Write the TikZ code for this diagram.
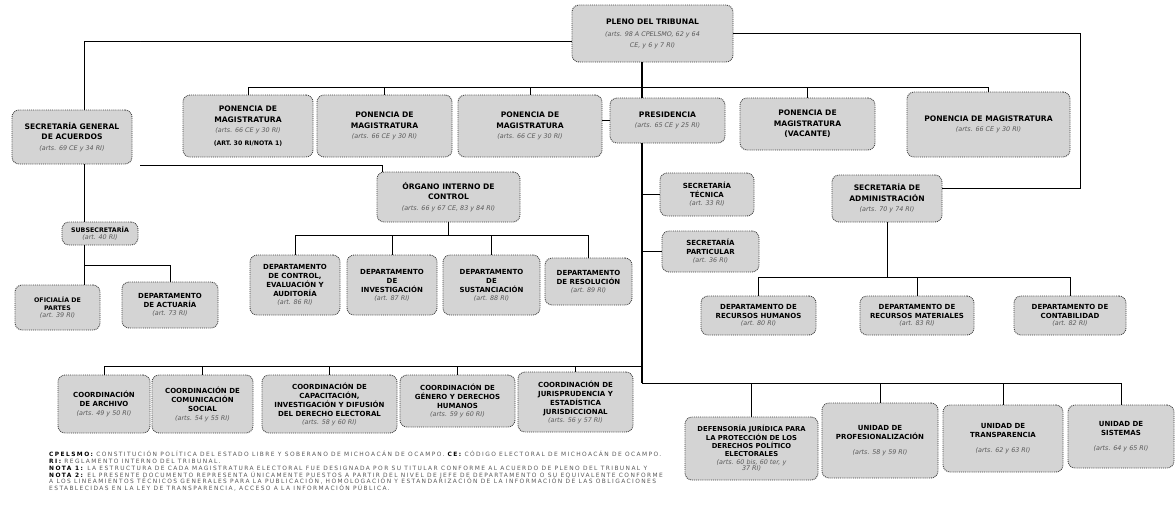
\documentclass[tikz,border=0pt]{standalone}
\usepackage{fontspec}
\setmainfont{DejaVu Sans}
\newfontfamily\notefont{DejaVu Sans}[LetterSpace=24]
\usetikzlibrary{calc}

\newcommand{\artref}[1]{{\mdseries\itshape\color{black!65}\fontsize{6.4}{8}\selectfont #1}}

\tikzset{
    unit/.style={draw=black!75, densely dotted, line width=0.9pt, fill=black!17, rounded corners=7pt,
        align=center, inner sep=1pt, font=\bfseries\fontsize{7.6}{10.5}\selectfont},
    small/.style={font=\bfseries\fontsize{7}{9}\selectfont},
    tiny/.style={font=\bfseries\fontsize{6.3}{8.2}\selectfont},
    sz/.style 2 args={minimum width=#1pt, minimum height=#2pt},
    link/.style={line width=0.7pt},
    trunk/.style={line width=1.3pt},
}

\begin{document}
\begin{tikzpicture}[x=1pt, y=-1pt]
    \fill[white] (0,0) rectangle (1176,507);
    \useasboundingbox (0,0) rectangle (1176,507);

    % pleno
    \node[unit, sz={161}{57}] (pleno) at (652.5,33.5) {PLENO DEL TRIBUNAL\\[2pt]\artref{(arts. 98 A CPELSMO, 62 y 64}\\\artref{CE, y 6 y 7 RI)}};

    % ponencias y presidencia
    \node[unit, sz={130}{62}] (pon1) at (248,126) {PONENCIA DE\\MAGISTRATURA\\\artref{(arts. 66 CE y 30 RI)}\\[2pt]{\fontsize{6.2}{7}\selectfont (ART. 30 RI/NOTA 1)}};
    \node[unit, sz={135}{62}] (pon2) at (384.5,126) {PONENCIA DE\\MAGISTRATURA\\\artref{(arts. 66 CE y 30 RI)}};
    \node[unit, sz={144}{62}] (pon3) at (530,126) {PONENCIA DE\\MAGISTRATURA\\\artref{(arts. 66 CE y 30 RI)}};
    \node[unit, sz={115}{45}] (pres) at (667.5,120.5) {PRESIDENCIA\\\artref{(arts. 65 CE y 25 RI)}};
    \node[unit, sz={135}{52}] (pon5) at (807.5,124) {PONENCIA DE\\MAGISTRATURA\\(VACANTE)};
    \node[unit, sz={163}{65}] (pon6) at (988.5,124.5) {PONENCIA DE MAGISTRATURA\\\artref{(arts. 66 CE y 30 RI)}};

    % secretaria general de acuerdos
    \node[unit, sz={120}{54}] (sga) at (72,137) {SECRETARÍA GENERAL\\DE ACUERDOS\\\artref{(arts. 69 CE y 34 RI)}};
    \node[unit, tiny, sz={76}{23}] (subsec) at (100,233.5) {SUBSECRETARÍA\\[-1pt]\artref{(art. 40 RI)}};
    \node[unit, tiny, sz={85}{45}] (ofic) at (57.5,307.5) {OFICIALÍA DE\\PARTES\\[-1pt]\artref{(art. 39 RI)}};
    \node[unit, small, sz={96}{46}] (actu) at (170,305) {DEPARTAMENTO\\DE ACTUARÍA\\[-1pt]\artref{(art. 73 RI)}};

    % organo interno de control
    \node[unit, sz={143}{50}] (organo) at (448.5,197) {ÓRGANO INTERNO DE\\CONTROL\\\artref{(arts. 66 y 67 CE, 83 y 84 RI)}};
    \node[unit, small, sz={90}{60}] (dctl) at (295,285) {DEPARTAMENTO\\DE CONTROL,\\EVALUACIÓN Y\\AUDITORÍA\\[-1pt]\artref{(art. 86 RI)}};
    \node[unit, small, sz={90}{60}] (dinv) at (392,285) {DEPARTAMENTO\\DE\\INVESTIGACIÓN\\[-1pt]\artref{(art. 87 RI)}};
    \node[unit, small, sz={97}{60}] (dsus) at (491.5,285) {DEPARTAMENTO\\DE\\SUSTANCIACIÓN\\[-1pt]\artref{(art. 88 RI)}};
    \node[unit, small, sz={87}{47}] (dres) at (588.5,281.5) {DEPARTAMENTO\\DE RESOLUCIÓN\\[-1pt]\artref{(art. 89 RI)}};

    % secretarias de presidencia
    \node[unit, small, sz={94}{43}] (stec) at (707,194.5) {SECRETARÍA\\TÉCNICA\\[-1pt]\artref{(art. 33 RI)}};
    \node[unit, small, sz={97}{41}] (spart) at (710.5,251.5) {SECRETARÍA\\PARTICULAR\\[-1pt]\artref{(art. 36 RI)}};

    % administracion
    \node[unit, sz={110}{47}] (admin) at (887,198.5) {SECRETARÍA DE\\ADMINISTRACIÓN\\\artref{(arts. 70 y 74 RI)}};
    \node[unit, small, sz={115}{39}] (drh) at (758.5,315.5) {DEPARTAMENTO DE\\RECURSOS HUMANOS\\[-2pt]\artref{(art. 80 RI)}};
    \node[unit, small, sz={114}{39}] (drm) at (917,315.5) {DEPARTAMENTO DE\\RECURSOS MATERIALES\\[-2pt]\artref{(art. 83 RI)}};
    \node[unit, small, sz={112}{39}] (dcon) at (1070,315.5) {DEPARTAMENTO DE\\CONTABILIDAD\\[-2pt]\artref{(art. 82 RI)}};

    % coordinaciones
    \node[unit, small, sz={92}{58}] (carc) at (104,404) {COORDINACIÓN\\DE ARCHIVO\\\artref{(arts. 49 y 50 RI)}};
    \node[unit, small, sz={101}{58}] (ccom) at (202.5,404) {COORDINACIÓN DE\\COMUNICACIÓN\\SOCIAL\\\artref{(arts. 54 y 55 RI)}};
    \node[unit, small, sz={135}{58}] (ccap) at (329.5,404) {COORDINACIÓN DE\\CAPACITACIÓN,\\INVESTIGACIÓN Y DIFUSIÓN\\DEL DERECHO ELECTORAL\\[-1pt]\artref{(arts. 58 y 60 RI)}};
    \node[unit, small, sz={115}{52}] (cgen) at (457.5,401) {COORDINACIÓN DE\\GÉNERO Y DERECHOS\\HUMANOS\\[-1pt]\artref{(arts. 59 y 60 RI)}};
    \node[unit, small, sz={115}{60}] (cjur) at (575.5,402) {COORDINACIÓN DE\\JURISPRUDENCIA Y\\ESTADÍSTICA\\JURISDICCIONAL\\[-1pt]\artref{(arts. 56 y 57 RI)}};

    % unidades
    \node[unit, small, font=\bfseries\fontsize{6.8}{8.3}\selectfont, sz={133}{63}] (defe) at (751.5,448.5) {DEFENSORÍA JURÍDICA PARA\\LA PROTECCIÓN DE LOS\\DERECHOS POLÍTICO\\ELECTORALES\\[-1pt]\artref{(arts. 60 bis, 60 ter, y}\\[-2pt]\artref{37 RI)}};
    \node[unit, small, sz={116}{75}] (uprof) at (880,440.5) {UNIDAD DE\\PROFESIONALIZACIÓN\\[6pt]\artref{(arts. 58 y 59 RI)}};
    \node[unit, small, sz={120}{67}] (utra) at (1003,438.5) {UNIDAD DE\\TRANSPARENCIA\\[6pt]\artref{(arts. 62 y 63 RI)}};
    \node[unit, small, sz={106}{63}] (usis) at (1121,436.5) {UNIDAD DE\\SISTEMAS\\[6pt]\artref{(arts. 64 y 65 RI)}};

    % helper coordinates
    \coordinate (spine) at (642,0);
    \coordinate (lx) at (84,0);
    \coordinate (rx) at (1080,0);
    \coordinate (fr1) at (140,41.5);
    \coordinate (fr2) at (140,165);
    \coordinate (ptop) at (0,87);
    \coordinate (lbr) at (0,265);
    \coordinate (obus) at (0,235);
    \coordinate (abus) at (0,277);
    \coordinate (cbus) at (0,366);
    \coordinate (ubus) at (0,383);

    % pleno to ponencias
    \draw[trunk] (spine |- pleno.south) -- (spine |- pres.north);
    \draw[link] (pon1.north |- ptop) -- (pon6.north |- ptop);
    \foreach \p in {pon1,pon2,pon3,pon5,pon6}
        \draw[link] (\p.north |- ptop) -- (\p.north);
    \draw[link] (pres.west) -- (pres.west -| pon3.east);

    % pleno to secretaria general
    \draw[link] ([yshift=-8pt]pleno.west) -| (lx |- sga.north);
    \draw[link] (lx |- sga.south) -- (lx |- subsec.north);
    \draw[link] (lx |- subsec.south) -- (lx |- ofic.north);
    \draw[link] (lx |- lbr) -| (actu.north);

    % pleno to organo interno
    \draw[link, double, double distance=1.2pt] (fr1) -- (fr2);
    \draw[link] (fr2) -| ([xshift=6pt]organo.north west);
    \draw[link] (organo.south) -- (organo.south |- obus);
    \draw[link] (dctl.north |- obus) -- (dres.north |- obus);
    \foreach \d in {dctl,dinv,dsus,dres}
        \draw[link] (\d.north |- obus) -- (\d.north);

    % pleno to administracion
    \draw[link] (pleno.east) -- (pleno.east -| rx) |- ([yshift=10pt]admin.east);
    \draw[link] (admin.south) -- (admin.south |- abus);
    \draw[link] (drh.north |- abus) -- (dcon.north |- abus);
    \foreach \d in {drh,drm,dcon}
        \draw[link] (\d.north |- abus) -- (\d.north);

    % presidencia
    \draw[trunk] (spine |- pres.south) -- (spine |- ubus);
    \draw[link] (stec.west) -- (stec.west -| spine);
    \draw[link] (spart.west) -- (spart.west -| spine);

    % coordinaciones
    \draw[link] (spine |- cbus) -- (carc.north |- cbus);
    \foreach \c in {carc,ccom,ccap,cgen,cjur}
        \draw[link] (\c.north |- cbus) -- (\c.north);

    % unidades
    \draw[link] (spine |- ubus) -- (usis.north |- ubus);
    \foreach \u in {defe,uprof,utra,usis}
        \draw[link] (\u.north |- ubus) -- (\u.north);

    % notas
    \node[anchor=north west, align=left, inner sep=0pt, text=black!65,
        font=\notefont\fontsize{5.9}{6.8}\selectfont] (notas) at (49,451) {%
        {\bfseries\color{black}CPELSMO:} CONSTITUCIÓN POLÍTICA DEL ESTADO LIBRE Y SOBERANO DE MICHOACÁN DE OCAMPO. {\bfseries\color{black}CE:} CÓDIGO ELECTORAL DE MICHOACÁN DE OCAMPO.\\
        {\bfseries\color{black}RI:} REGLAMENTO INTERNO DEL TRIBUNAL.\\
        {\bfseries\color{black}NOTA 1:} LA ESTRUCTURA DE CADA MAGISTRATURA ELECTORAL FUE DESIGNADA POR SU TITULAR CONFORME AL ACUERDO DE PLENO DEL TRIBUNAL Y\\
        {\bfseries\color{black}NOTA 2:} EL PRESENTE DOCUMENTO REPRESENTA ÚNICAMENTE PUESTOS A PARTIR DEL NIVEL DE JEFE DE DEPARTAMENTO O SU EQUIVALENTE CONFORME\\
        A LOS LINEAMIENTOS TÉCNICOS GENERALES PARA LA PUBLICACIÓN, HOMOLOGACIÓN Y ESTANDARIZACIÓN DE LA INFORMACIÓN DE LAS OBLIGACIONES\\
        ESTABLECIDAS EN LA LEY DE TRANSPARENCIA, ACCESO A LA INFORMACIÓN PÚBLICA.};
\end{tikzpicture}
\end{document}
